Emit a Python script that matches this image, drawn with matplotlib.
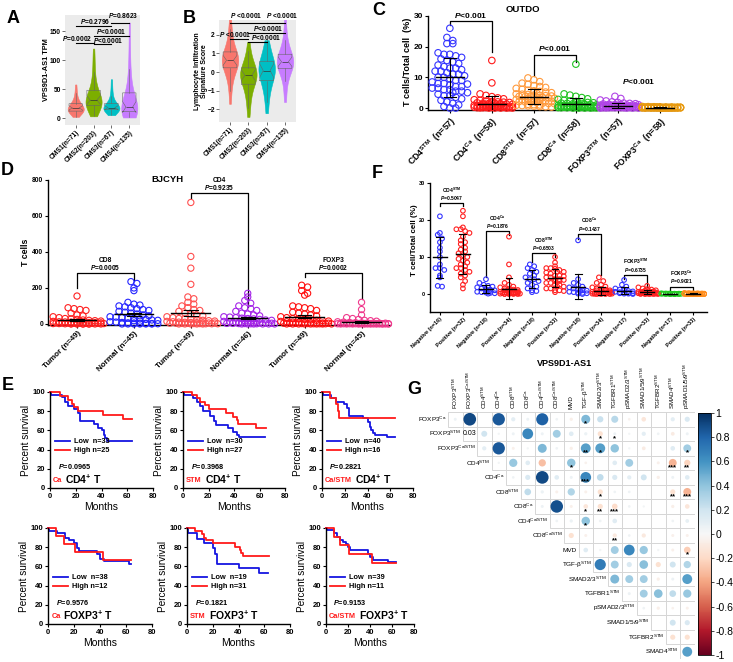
import numpy as np
import matplotlib
matplotlib.use('Agg')
import matplotlib.pyplot as plt
from matplotlib.patches import Rectangle
from matplotlib.cm import ScalarMappable
from matplotlib.colors import Normalize

plt.rcParams['font.family'] = ['Liberation Sans', 'DejaVu Sans']
plt.rcParams['font.weight'] = 'bold'
plt.rcParams['mathtext.fontset'] = 'custom'
plt.rcParams['mathtext.rm'] = 'Liberation Sans'
plt.rcParams['mathtext.it'] = 'Liberation Sans:italic:bold'
plt.rcParams['mathtext.bf'] = 'Liberation Sans:bold'
plt.rcParams['mathtext.default'] = 'regular'
plt.rcParams['axes.linewidth'] = 1.0

W, H = 733, 662

# ---------------- data ----------------
cms_labels = ['CMS1(n=71)', 'CMS2(n=203)', 'CMS3(n=67)', 'CMS4(n=135)']
cms_colors = ['#F8766D', '#7CAE00', '#00BFC4', '#C77CFF']
tpm_cms1 = [2, 4, 6, 7, 8, 9, 10, 11, 12, 12, 13, 14, 14, 15, 16, 16, 17, 18, 18, 19, 20, 21, 22, 23,
            24, 25, 27, 29, 31, 34, 38, 43, 50, 58]
tpm_cms2 = [3, 7, 10, 13, 15, 17, 19, 21, 22, 24, 25, 26, 27, 28, 29, 30, 31, 32, 34, 36, 38, 40, 42,
            45, 48, 52, 57, 63, 70, 80, 92, 105, 120]
tpm_cms3 = [5, 8, 10, 12, 13, 14, 15, 15, 16, 16, 17, 17, 18, 18, 19, 20, 21, 22, 24, 26, 29, 33, 38,
            45, 55, 67]
tpm_cms4 = [1, 3, 5, 7, 8, 9, 10, 11, 12, 13, 14, 15, 16, 17, 18, 20, 22, 24, 27, 30, 34, 39, 45, 52,
            60, 70, 85, 105, 130, 165]
lis_cms1 = [-1.7, -1.0, -0.6, -0.3, -0.1, 0.1, 0.2, 0.3, 0.4, 0.45, 0.5, 0.55, 0.6, 0.65, 0.7, 0.75,
            0.8, 0.9, 1.0, 1.1, 1.2, 1.4, 1.6, 1.9, 2.3, 2.8]
lis_cms2 = [-2.4, -1.9, -1.5, -1.2, -1.0, -0.8, -0.6, -0.5, -0.4, -0.3, -0.25, -0.2, -0.15, -0.1,
            -0.05, 0.0, 0.1, 0.2, 0.3, 0.4, 0.6, 0.8, 1.1, 1.6]
lis_cms3 = [-2.2, -1.6, -1.2, -0.9, -0.7, -0.5, -0.35, -0.2, -0.1, 0.0, 0.05, 0.1, 0.2, 0.3, 0.4, 0.5,
            0.6, 0.7, 0.9, 1.1, 1.4, 1.7]
lis_cms4 = [-1.6, -1.0, -0.5, -0.2, 0.0, 0.15, 0.25, 0.35, 0.4, 0.45, 0.5, 0.55, 0.6, 0.65, 0.7, 0.8,
            0.9, 1.0, 1.2, 1.4, 1.7, 2.1, 2.8]

outdo_labels = ['CD4$^{STM}$  (n=57)', 'CD4$^{Ca}$  (n=58)', 'CD8$^{STM}$  (n=57)',
                'CD8$^{Ca}$  (n=58)', 'FOXP3$^{STM}$  (n=57)', 'FOXP3$^{Ca}$  (n=58)']
outdo_colors = ['#3535FF', '#FF1A1A', '#FF9A3C', '#22C322', '#B044E6', '#E89A10']
outdo_cd4_stm = [26, 23, 22, 21, 21, 18, 17.5, 17.5, 17, 16.5, 16, 15.5, 15, 14.5, 14, 13.5, 13, 13,
                 12.5, 12, 12, 11.5, 11, 11, 10.5, 10, 10, 9.5, 9, 9, 8.5, 8, 8, 7.5, 7, 7, 6.5, 6.5,
                 6, 6, 5.5, 5.5, 5, 5, 4.5, 4, 4, 3.5, 3, 2.5, 2, 1.5, 1, 0.5, 0, 0, 7.8]
outdo_cd4_ca = [15.5, 8.2, 4.6, 4.1, 3.7, 3.3, 3.0, 2.7, 2.5, 2.3, 2.1, 2.0, 1.9, 1.8, 1.7, 1.6, 1.5,
                1.5, 1.4, 1.3, 1.2, 1.2, 1.1, 1.0, 1.0, 0.9, 0.9, 0.8, 0.8, 0.7, 0.7, 0.6, 0.6, 0.5,
                0.5, 0.5, 0.4, 0.4, 0.4, 0.3, 0.3, 0.3, 0.2, 0.2, 0.2, 0.1, 0.1, 0.1, 0.0, 0.0, 0.0,
                0.0, 0.0, 0.05, 0.15, 0.25, 0.35, 0.45]
outdo_cd8_stm = [9.8, 9.2, 8.6, 8.1, 7.7, 7.3, 7.0, 6.7, 6.4, 6.1, 5.8, 5.6, 5.4, 5.2, 5.0, 4.8, 4.6,
                 4.5, 4.4, 4.2, 4.1, 4.0, 3.9, 3.8, 3.7, 3.6, 3.5, 3.4, 3.3, 3.2, 3.1, 3.0, 2.9, 2.8,
                 2.7, 2.6, 2.5, 2.4, 2.3, 2.2, 2.1, 2.0, 1.9, 1.8, 1.6, 1.5, 1.4, 1.2, 1.1, 1.0, 0.9,
                 0.8, 0.7, 0.6, 0.5, 0.4, 0.3]
outdo_cd8_ca = [14.3, 4.6, 4.2, 3.8, 3.4, 3.0, 2.8, 2.5, 2.3, 2.1, 2.0, 1.8, 1.7, 1.6, 1.5, 1.4, 1.3,
                1.2, 1.1, 1.0, 1.0, 0.9, 0.9, 0.8, 0.8, 0.7, 0.7, 0.6, 0.6, 0.5, 0.5, 0.5, 0.4, 0.4,
                0.4, 0.3, 0.3, 0.3, 0.2, 0.2, 0.2, 0.1, 0.1, 0.1, 0.0, 0.0, 0.0, 0.0, 0.05, 0.15,
                0.25, 0.35, 0.45, 0.55, 0.65, 0.75, 0.85, 0.95]
outdo_foxp3_stm = [3.8, 3.1, 2.6, 2.3, 2.0, 1.8, 1.6, 1.5, 1.4, 1.3, 1.2, 1.1, 1.0, 1.0, 0.9, 0.9,
                   0.8, 0.8, 0.7, 0.7, 0.6, 0.6, 0.5, 0.5, 0.5, 0.4, 0.4, 0.4, 0.3, 0.3, 0.3, 0.2,
                   0.2, 0.2, 0.2, 0.1, 0.1, 0.1, 0.1, 0.0, 0.0, 0.0, 0.0, 0.05, 0.15, 0.25, 0.35,
                   0.45, 0.55, 0.65, 0.75, 0.85, 0.95, 1.05, 0.12, 0.22, 0.32]
outdo_foxp3_ca = [0.5, 0.45, 0.4, 0.4, 0.35, 0.35, 0.3, 0.3, 0.3, 0.25, 0.25, 0.25, 0.2, 0.2, 0.2,
                  0.2, 0.15, 0.15, 0.15, 0.15, 0.1, 0.1, 0.1, 0.1, 0.1, 0.05, 0.05, 0.05, 0.05,
                  0.05, 0.0, 0.0, 0.0, 0.0, 0.0, 0.0, 0.0, 0.0, 0.0, 0.0, 0.12, 0.18, 0.22, 0.28,
                  0.32, 0.08, 0.02, 0.07, 0.13, 0.17, 0.23, 0.27, 0.03, 0.09, 0.14, 0.19, 0.24, 0.04]

bjcyh_labels = ['Tumor (n=49)', 'Normal (n=45)', 'Tumor (n=49)', 'Normal (n=46)', 'Tumor (n=49)',
                'Normal (n=45)']
bjcyh_colors = ['#FF2020', '#2424FF', '#FF5050', '#A424E8', '#FF1010', '#F0388C']
bjcyh_tumor_cd8 = [155, 90, 85, 80, 75, 60, 50, 45, 40, 35, 30, 28, 25, 22, 20, 18, 16, 15, 14, 12,
                   11, 10, 9, 8, 8, 7, 6, 6, 5, 5, 4, 4, 3, 3, 3, 2, 2, 2, 1, 1, 1, 0, 0, 0, 0, 0,
                   0, 0, 0]
bjcyh_normal_cd8 = [235, 225, 200, 185, 120, 110, 105, 100, 95, 90, 85, 80, 75, 70, 65, 60, 55, 50,
                    45, 40, 38, 35, 32, 30, 28, 25, 22, 20, 18, 15, 12, 10, 8, 6, 5, 4, 3, 2, 1, 0,
                    0, 0, 0, 0, 0]
bjcyh_tumor_cd4 = [675, 375, 310, 220, 150, 140, 120, 110, 100, 90, 80, 75, 70, 60, 55, 50, 45, 40,
                   35, 30, 28, 25, 22, 20, 18, 16, 14, 12, 10, 9, 8, 7, 6, 5, 5, 4, 4, 3, 3, 2, 2,
                   1, 1, 1, 0, 0, 0, 0, 0]
bjcyh_normal_cd4 = [170, 150, 130, 115, 100, 90, 85, 75, 70, 60, 55, 50, 45, 40, 38, 35, 32, 30, 28,
                    25, 22, 20, 18, 16, 15, 14, 12, 10, 9, 8, 7, 6, 5, 4, 3, 3, 2, 2, 1, 1, 0, 0, 0,
                    0, 0, 0]
bjcyh_tumor_foxp3 = [215, 205, 185, 170, 160, 100, 95, 90, 85, 75, 65, 60, 55, 50, 45, 40, 35, 30,
                     28, 25, 22, 20, 18, 16, 14, 12, 10, 9, 8, 7, 6, 5, 4, 4, 3, 3, 2, 2, 1, 1, 1,
                     0, 0, 0, 0, 0, 0, 0, 0]
bjcyh_normal_foxp3 = [120, 80, 50, 35, 30, 25, 20, 18, 15, 12, 10, 8, 7, 6, 5, 5, 4, 4, 3, 3, 3, 2,
                      2, 2, 2, 1, 1, 1, 1, 1, 1, 0, 0, 0, 0, 0, 0, 0, 0, 0, 0, 0, 0, 0, 0]

vps_labels = ['Negative (n=16)', 'Positive (n=32)', 'Negative (n=18)', 'Positive (n=34)',
              'Negative (n=18)', 'Positive (n=33)', 'Negative (n=18)', 'Positive (n=34)',
              'Negative (n=17)', 'Positive (n=33)', 'Negative (n=17)', 'Positive (n=33)']
vps_colors = ['#3535FF', '#FF2020'] * 5 + ['#22CC22', '#FF8C1A']
vps_cd4_stm_neg = [21, 16.5, 16, 15, 14, 12.5, 11.5, 10, 8, 7, 7, 6.5, 5, 4.5, 2.2, 2]
vps_cd4_stm_pos = [22.5, 21, 18, 17.5, 17.5, 17, 16.5, 15.5, 14.5, 14, 13.5, 12.5, 12, 11.5, 11,
                   10.5, 10, 9.5, 9, 8.5, 8, 7.5, 7, 7, 6.5, 6, 5.5, 5, 4.5, 3.5, 2.5, 1.5]
vps_cd4_ca_neg = [4, 3, 2.5, 2.2, 2, 1.8, 1.5, 1.3, 1.2, 1, 1, 0.8, 0.6, 0.5, 0.4, 0.3, 0.2, 0.1]
vps_cd4_ca_pos = [15.5, 8, 4.5, 3, 2.5, 2, 1.8, 1.5, 1.3, 1.2, 1.1, 1, 0.9, 0.8, 0.7, 0.6, 0.5, 0.5,
                  0.4, 0.4, 0.3, 0.3, 0.2, 0.2, 0.1, 0.1, 0, 0, 0, 0, 0.05, 0.15, 0.25, 0.35]
vps_cd8_stm_neg = [8, 7.5, 7, 6.5, 6, 5.5, 5, 4.5, 4, 4, 3.5, 3, 2.5, 2, 1.5, 1, 0.8, 0.5]
vps_cd8_stm_pos = [10, 8.5, 7.5, 7, 7, 6.8, 6.5, 6, 6, 5.8, 5.5, 5, 5, 4.8, 4.5, 4.5, 4, 4, 3.8,
                   3.5, 3.5, 3, 3, 2.5, 2.5, 2, 2, 1.5, 1.5, 1, 1, 0.8, 0.5]
vps_cd8_ca_neg = [14.5, 4, 3, 2.5, 2, 1.8, 1.5, 1.2, 1, 0.9, 0.8, 0.6, 0.5, 0.4, 0.3, 0.2, 0.1, 0]
vps_cd8_ca_pos = [4.5, 3.5, 3, 2.5, 2, 1.8, 1.5, 1.3, 1.2, 1, 1, 0.9, 0.8, 0.7, 0.6, 0.5, 0.5, 0.4,
                  0.4, 0.3, 0.3, 0.2, 0.2, 0.1, 0.1, 0, 0, 0, 0, 0.05, 0.15, 0.25, 0.35, 0.45]
vps_foxp3_stm_neg = [3.8, 2.5, 2, 1.5, 1.2, 1, 0.8, 0.7, 0.6, 0.5, 0.4, 0.3, 0.2, 0.2, 0.1, 0.1, 0]
vps_foxp3_stm_pos = [2.2, 1.8, 1.5, 1.3, 1.2, 1, 0.9, 0.8, 0.7, 0.6, 0.6, 0.5, 0.5, 0.4, 0.4, 0.3,
                     0.3, 0.3, 0.2, 0.2, 0.2, 0.1, 0.1, 0.1, 0.1, 0, 0, 0, 0, 0.05, 0.15, 0.25, 0.35]
vps_foxp3_ca_neg = [0.2, 0.15, 0.15, 0.1, 0.1, 0.1, 0.1, 0.05, 0.05, 0.05, 0.05, 0, 0, 0, 0, 0, 0]
vps_foxp3_ca_pos = [0.3, 0.25, 0.2, 0.2, 0.15, 0.15, 0.15, 0.1, 0.1, 0.1, 0.1, 0.1, 0.05, 0.05, 0.05,
                    0.05, 0.05, 0.05, 0, 0, 0, 0, 0, 0, 0, 0, 0, 0, 0, 0, 0, 0, 0]

# Kaplan-Meier step curves (months, percent survival)
ca_cd4_low_t = [0, 0.5, 9, 12, 14, 19, 22, 23, 34, 37, 40, 42, 43, 44, 64]
ca_cd4_low_s = [100, 97, 95, 90, 85, 82, 78, 70, 67, 63, 60, 55, 52, 49, 49]
ca_cd4_high_t = [0, 8, 14, 17, 19, 22, 41, 57, 64]
ca_cd4_high_s = [100, 96, 92, 88, 84, 80, 76, 72, 72]
stm_cd4_low_t = [0, 0.5, 8, 11, 13, 16, 21, 24, 26, 35, 39, 42, 44, 64]
stm_cd4_low_s = [100, 97, 94, 90, 85, 80, 75, 70, 66, 62, 58, 55, 53, 53]
stm_cd4_high_t = [0, 7, 11, 13, 17, 20, 34, 39, 42, 43, 57, 65]
stm_cd4_high_s = [100, 97, 94, 90, 86, 82, 78, 74, 71, 67, 63, 63]
cs_cd4_low_t = [0, 0.5, 8, 12, 19, 22, 24, 36, 40, 42, 43, 45, 47, 57, 64]
cs_cd4_low_s = [100, 97, 94, 90, 88, 83, 75, 73, 69, 64, 60, 57, 55, 53, 53]
cs_cd4_high_t = [0, 7, 12, 14, 15, 64]
cs_cd4_high_s = [100, 94, 87, 80, 73, 73]
ca_fox_low_t = [0, 0.5, 7, 13, 16, 20, 22, 24, 38, 40, 43, 62, 64]
ca_fox_low_s = [100, 97, 95, 90, 87, 84, 79, 76, 73, 68, 66, 63, 63]
ca_fox_high_t = [0, 6.5, 12, 21, 42, 64]
ca_fox_high_s = [100, 92, 83, 75, 67, 67]
stm_fox_low_t = [0, 0.5, 8, 13, 20.5, 22, 23, 40, 56, 63]
stm_fox_low_s = [100, 95, 89, 84, 79, 73, 63, 58, 53, 53]
stm_fox_high_t = [0, 6, 11.5, 13, 15, 20.5, 37, 41, 42, 43.5, 64]
stm_fox_high_s = [100, 97, 94, 90, 87, 84, 80, 77, 74, 71, 71]
cs_fox_low_t = [0, 0.5, 7, 10, 13, 15, 18, 20, 22, 38, 40, 43, 56, 64]
cs_fox_low_s = [100, 98, 95, 91, 88, 85, 83, 80, 77, 73, 70, 67, 65, 65]
cs_fox_high_t = [0, 7, 13, 21, 42, 64]
cs_fox_high_s = [100, 91, 82, 73, 64, 64]

corr_rows = ['FOXP3$^{Ca}$', 'FOXP3$^{STM}$', 'FOXP3$^{Ca/STM}$', 'CD4$^{STM}$', 'CD4$^{Ca}$',
             'CD8$^{STM}$', 'CD8$^{Ca}$', 'CD4$^{Ca/STM}$', 'CD8$^{Ca/STM}$', 'MVD',
             'TGF-β$^{STM}$', 'SMAD2/3$^{STM}$', 'TGFBR1$^{STM}$', 'pSMAD2/3$^{STM}$',
             'SMAD1/5/9$^{STM}$', 'TGFBR2$^{STM}$', 'SMAD4$^{STM}$']
corr_cols = corr_rows[1:] + ['pSMAD1/5/9$^{STM}$']
corr_r = [
    [0.05, 0.9, 0, 0.85, 0.1, 0.05, 0.82, 0.04, -0.06, 0.45, 0.22, 0.28, -0.04, -0.12, 0, 0.1, 0.15],
    [0.03, 0.2, 0.03, 0.05, 0.65, 0.05, 0.35, 0.12, 0.06, -0.15, 0.05, 0.03, 0.1, 0.04, -0.08, 0.05],
    [0.1, 0.85, -0.05, 0.03, 0.45, 0.04, -0.06, 0.55, 0.55, 0.4, 0.03, -0.08, 0, 0.12, 0.35],
    [0.03, 0.38, 0.12, -0.3, 0, 0.4, -0.04, 0, 0.12, 0.35, 0, -0.05, -0.35, -0.22],
    [0.04, 0.15, 0.9, 0.12, 0.05, 0.65, 0.25, 0.15, 0.1, 0.2, -0.06, 0.05, 0.12],
    [0.25, 0.06, -0.05, 0.3, -0.05, -0.15, 0.04, 0.04, 0, 0, -0.15, -0.35],
    [0.05, 0.88, -0.05, -0.12, -0.15, -0.18, 0.04, 0.03, 0, -0.06, -0.12],
    [0.04, 0.06, 0.4, 0.04, 0.12, 0, 0, 0, 0.04, 0.08],
    [-0.15, -0.05, 0, -0.1, 0.04, -0.1, 0, -0.05, -0.05],
    [0.12, 0.03, 0.35, 0.65, 0.38, 0.03, -0.05, -0.25],
    [0.7, 0.35, 0.15, 0.42, -0.15, 0.2, 0.3],
    [0.45, 0.35, 0.35, -0.06, 0.05, 0.55],
    [0.05, 0.35, 0.42, 0.25, 0.38],
    [0.04, -0.06, -0.04, -0.05],
    [0, 0.2, 0.15],
    [-0.15, -0.15],
    [0.55],
]
corr_stars = [(0, 9, '*'), (1, 10, '*'), (1, 11, '*'), (2, 9, '**'), (2, 10, '*'), (2, 16, '*'),
              (3, 8, '*'), (3, 15, '***'), (3, 16, '**'), (4, 9, '***'), (5, 10, '*'),
              (5, 15, '**'), (5, 16, '***'), (6, 9, '*'), (6, 10, '**'), (6, 11, '***'),
              (7, 9, '*'), (8, 11, '**'), (9, 16, '*')]
corr_number_cells = [(1, 1)]

# ---------------- helpers ----------------
fig = plt.figure(figsize=(W / 100, H / 100), dpi=100)


def add_ax(x0, y0, x1, y1):
    return fig.add_axes([x0 / W, 1 - y1 / H, (x1 - x0) / W, (y1 - y0) / H])


def ftext(x, y, s, **kw):
    fig.text(x / W, 1 - y / H, s, **kw)


def swarm(vals, dy, dx, maxw):
    vals = np.asarray(vals, float)
    offs = np.zeros(len(vals))
    nslot = 2 * max(1, int(maxw / dx)) + 1
    bins = np.floor(vals / dy + 0.5).astype(int)
    for b in np.unique(bins):
        idx = np.where(bins == b)[0]
        n = len(idx)
        for k, i in enumerate(idx):
            layer = k // nslot
            m = min(nslot, n - layer * nslot)
            pos = k % nslot
            offs[i] = (pos - (m - 1) / 2) * dx + (layer % 2) * dx * 0.5
    return offs


def dot_panel(ax, groups, colors, dy, dx, maxw, s, err, mean_w, cap_w):
    for k, (vals, col) in enumerate(zip(groups, colors)):
        vals = np.asarray(vals, float)
        x = k + swarm(vals, dy, dx, maxw)
        ax.scatter(x, vals, s=s, facecolors='none', edgecolors=col, linewidths=0.8,
                   zorder=3, clip_on=False)
        m = vals.mean()
        e = vals.std(ddof=1)
        if err == 'sem':
            e = e / np.sqrt(len(vals))
        ax.plot([k - mean_w, k + mean_w], [m, m], color='k', lw=1.0, zorder=4)
        ax.plot([k, k], [m - e, m + e], color='k', lw=0.8, zorder=4)
        for yy in (m - e, m + e):
            ax.plot([k - cap_w, k + cap_w], [yy, yy], color='k', lw=0.8, zorder=4)


def prism(ax, fs):
    for sp in ['top', 'right']:
        ax.spines[sp].set_visible(False)
    ax.tick_params(labelsize=fs, width=0.8, length=2.5, pad=1)


def bracket(ax, x0, x1, y, y0, y1, texts, ys, fs):
    ax.plot([x0, x0, x1, x1], [y0, y, y, y1], color='k', lw=0.9, clip_on=False)
    for t, yy in zip(texts, ys):
        ax.text((x0 + x1) / 2, yy, t, ha='center', va='center', fontsize=fs, clip_on=False)


def violin_panel(ax, data, ylim, yticks, lines, labels):
    ax.set_facecolor('#EBEBEB')
    for sp in ax.spines.values():
        sp.set_visible(False)
    parts = ax.violinplot(data, positions=[1, 2, 3, 4], widths=0.9, showextrema=False)
    for body, col in zip(parts['bodies'], cms_colors):
        body.set_facecolor(col)
        body.set_edgecolor(col)
        body.set_alpha(1)
        body.set_linewidth(0.4)
    ax.boxplot(data, positions=[1, 2, 3, 4], widths=0.75, notch=True, showfliers=False,
               boxprops=dict(color='#666666', lw=0.4), whiskerprops=dict(color='#666666', lw=0.4),
               capprops=dict(lw=0), medianprops=dict(color='#333333', lw=0.5))
    ax.set_xlim(0.4, 4.6)
    ax.set_ylim(*ylim)
    ax.set_yticks(yticks)
    ax.set_xticks([1, 2, 3, 4])
    ax.set_xticklabels(cms_labels, rotation=45, ha='right', rotation_mode='anchor')
    ax.tick_params(labelsize=4.8, length=2, width=0.5, color='#333333', pad=1)
    for x0, x1, y in lines:
        ax.plot([x0, x1], [y, y], color='k', lw=0.8, clip_on=False)
    for x, y, t in labels:
        ax.text(x, y, t, ha='center', va='center', fontsize=4.8, clip_on=False)


def km(box, low_t, low_s, high_t, high_s, n_low, n_high, pval, tag, cell):
    ax = add_ax(*box)
    ax.step(low_t, low_s, where='post', color='#1515E0', lw=1.3, clip_on=False,
            label='Low  n=%d' % n_low)
    ax.step(high_t, high_s, where='post', color='#FF1A1A', lw=1.3, clip_on=False,
            label='High n=%d' % n_high)
    ax.set_xlim(0, 80)
    ax.set_ylim(0, 100)
    ax.set_xticks([0, 20, 40, 60, 80])
    ax.set_yticks([0, 20, 40, 60, 80, 100])
    prism(ax, 5.5)
    ax.set_xlabel('Months', fontsize=7.5, labelpad=1.5)
    ax.set_ylabel('Percent survival', fontsize=7.2, labelpad=1)
    ax.legend(loc='upper left', bbox_to_anchor=(0.05, 0.52), frameon=False, fontsize=5.3,
              handlelength=2.0, handletextpad=0.5, labelspacing=0.25, borderpad=0,
              borderaxespad=0)
    ax.text(6, 22, r'$\mathit{P}$=' + pval, fontsize=5.3, va='center')
    t = ax.text(2.5, 6, tag, color='#FF1A1A', fontsize=5.3, va='baseline')
    ax.annotate(cell + '$^{+}$ T', xy=(1, 0), xycoords=t, xytext=(2, 0.5),
                textcoords='offset points', fontsize=7.5, va='baseline')
    return ax


# ---------------- panel letters ----------------
for lab, x, y in [('A', 7, 10), ('B', 183, 10), ('C', 372, 2), ('D', 1, 162), ('F', 372, 165),
                  ('E', 2, 377), ('G', 407, 381)]:
    ftext(x, y, lab, fontsize=13, fontweight='bold', va='top')

# ---------------- A ----------------
axA = add_ax(65, 15, 140, 125)
violin_panel(axA, [tpm_cms1, tpm_cms2, tpm_cms3, tpm_cms4], (-12, 178), [0, 50, 100, 150],
             [(3, 4, 164), (1, 3, 159), (2, 4, 141), (1, 2, 129), (2, 3, 128)],
             [(3.67, 177, r'$\mathit{P}$=0.8623'), (2.08, 166, r'$\mathit{P}$=0.2796'),
              (2.97, 149, r'$\mathit{P}$<0.0001'), (1.07, 137, r'$\mathit{P}$=0.0002'),
              (2.8, 134, r'$\mathit{P}$<0.0001')])
ftext(47, 70, 'VPS9D1-AS1 TPM', fontsize=5.3, rotation=90, ha='center', va='center')

# ---------------- B ----------------
axB = add_ax(219, 20, 296, 122)
violin_panel(axB, [lis_cms1, lis_cms2, lis_cms3, lis_cms4], (-2.67, 2.78), [-2, -1, 0, 1, 2],
             [(1, 3, 2.64), (3, 4, 2.64), (2, 4, 2.07), (1, 2, 1.75), (2, 3, 1.62)],
             [(1.88, 3.0, r'$\mathit{P}$ <0.0001'), (3.84, 3.0, r'$\mathit{P}$ <0.0001'),
              (3.08, 2.33, r'$\mathit{P}$<0.0001'), (1.27, 1.98, r'$\mathit{P}$ <0.0001'),
              (2.97, 1.85, r'$\mathit{P}$<0.0001')])
ftext(201, 71, 'Lymphocyte Infiltration\nSignature Score', fontsize=5.0, rotation=90,
      ha='center', va='center', linespacing=1.1)

# ---------------- C ----------------
axC = add_ax(428, 16, 675, 110)
dot_panel(axC, [outdo_cd4_stm, outdo_cd4_ca, outdo_cd8_stm, outdo_cd8_ca, outdo_foxp3_stm,
                outdo_foxp3_ca], outdo_colors, 1.9, 0.14, 0.5, 22, 'sd', 0.33, 0.15)
axC.set_xlim(-0.52, 5.36)
axC.set_ylim(-0.65, 30)
axC.set_yticks([0, 10, 20, 30])
axC.set_xticks(range(6))
axC.set_xticklabels(outdo_labels, rotation=45, ha='right', rotation_mode='anchor')
prism(axC, 6)
axC.tick_params(axis='x', labelsize=6.3)
bracket(axC, 0, 1, 28.5, 27, 18.2, [r'$\mathit{P}$<0.001'], [30.3], 6)
bracket(axC, 2, 3, 17.3, 10.5, 15, [r'$\mathit{P}$<0.001'], [19.3], 6)
axC.text(4.5, 8.8, r'$\mathit{P}$<0.001', ha='center', va='center', fontsize=6)
ftext(523, 9, 'OUTDO', fontsize=6.8, ha='center', va='center')
ftext(408, 62, 'T cells/Total cell  (%)', fontsize=6.5, rotation=90, ha='center', va='center')

# ---------------- D ----------------
axD = add_ax(48, 180, 390, 325)
dot_panel(axD, [bjcyh_tumor_cd8, bjcyh_normal_cd8, bjcyh_tumor_cd4, bjcyh_normal_cd4,
                bjcyh_tumor_foxp3, bjcyh_normal_foxp3], bjcyh_colors, 30, 0.105, 0.45, 20,
          'sem', 0.34, 0.12)
axD.set_xlim(-0.51, 5.5)
axD.set_ylim(-6, 800)
axD.set_yticks([0, 200, 400, 600, 800])
axD.set_xticks(range(6))
axD.set_xticklabels(bjcyh_labels, rotation=45, ha='right', rotation_mode='anchor')
prism(axD, 4.8)
axD.tick_params(axis='x', labelsize=5.8)
bracket(axD, 0, 1, 283, 198, 245, ['CD8', r'$\mathit{P}$=0.0005'], [352, 315], 4.8)
bracket(axD, 2, 3, 726, 698, 96, ['CD4', r'$\mathit{P}$=0.9235'], [800, 758], 4.8)
bracket(axD, 4, 5, 283, 259, 137, ['FOXP3', r'$\mathit{P}$=0.0002'], [352, 315], 4.8)
ftext(167, 180, 'BJCYH', fontsize=6.8, ha='center', va='center')
ftext(25, 252, 'T cells', fontsize=6.3, rotation=90, ha='center', va='center')

# ---------------- F ----------------
axF = add_ax(430, 183, 707, 312)
dot_panel(axF, [vps_cd4_stm_neg, vps_cd4_stm_pos, vps_cd4_ca_neg, vps_cd4_ca_pos, vps_cd8_stm_neg,
                vps_cd8_stm_pos, vps_cd8_ca_neg, vps_cd8_ca_pos, vps_foxp3_stm_neg,
                vps_foxp3_stm_pos, vps_foxp3_ca_neg, vps_foxp3_ca_pos], vps_colors,
          1.3, 0.19, 0.4, 11, 'sd', 0.3, 0.15)
axF.set_xlim(-0.43, 11.6)
axF.set_ylim(-4.86, 30)
axF.set_yticks([0, 10, 20, 30])
axF.set_xticks(range(12))
axF.set_xticklabels(vps_labels, rotation=45, ha='right', rotation_mode='anchor')
prism(axF, 4)
axF.tick_params(axis='x', labelsize=4)
fsf = 3.6
bracket(axF, 0, 1, 24.5, 23.9, 23.9, ['CD4$^{STM}$', r'$\mathit{P}$=0.5047'], [28.1, 25.9], fsf)
bracket(axF, 2, 3, 17.0, 4.5, 16.0, ['CD4$^{Ca}$', r'$\mathit{P}$=0.1876'], [20.5, 18.4], fsf)
bracket(axF, 4, 5, 11.0, 8.7, 9.9, ['CD8$^{STM}$', r'$\mathit{P}$=0.6503'], [14.6, 12.5], fsf)
bracket(axF, 6, 7, 16.2, 15.0, 5.1, ['CD8$^{Ca}$', r'$\mathit{P}$=0.1437'], [19.8, 17.6], fsf)
bracket(axF, 8, 9, 5.1, 4.0, 2.0, ['FOXP3$^{STM}$', r'$\mathit{P}$=0.6735'], [8.7, 6.6], fsf)
bracket(axF, 10, 11, 2.0, 1.1, 1.1, ['FOXP3$^{Ca}$', r'$\mathit{P}$=0.9021'], [5.6, 3.5], fsf)
ftext(414, 240, 'T cell/Total cell (%)', fontsize=5.8, rotation=90, ha='center', va='center')
ftext(565, 363, 'VPS9D1-AS1', fontsize=6.5, ha='center', va='center')

# ---------------- E ----------------
km((50, 392, 153, 488), ca_cd4_low_t, ca_cd4_low_s, ca_cd4_high_t, ca_cd4_high_s, 33, 25,
   '0.0965', 'Ca', 'CD4')
km((183, 392, 285, 488), stm_cd4_low_t, stm_cd4_low_s, stm_cd4_high_t, stm_cd4_high_s, 30, 27,
   '0.3968', 'STM', 'CD4')
km((322, 392, 413, 488), cs_cd4_low_t, cs_cd4_low_s, cs_cd4_high_t, cs_cd4_high_s, 40, 16,
   '0.2821', 'Ca/STM', 'CD4')
km((48, 528, 152, 624), ca_fox_low_t, ca_fox_low_s, ca_fox_high_t, ca_fox_high_s, 38, 12,
   '0.9576', 'Ca', 'FOXP3')
km((187, 528, 290, 624), stm_fox_low_t, stm_fox_low_s, stm_fox_high_t, stm_fox_high_s, 19, 31,
   '0.1821', 'STM', 'FOXP3')
km((326, 528, 414, 624), cs_fox_low_t, cs_fox_low_s, cs_fox_high_t, cs_fox_high_s, 39, 11,
   '0.9153', 'Ca/STM', 'FOXP3')

# ---------------- G ----------------
axG = add_ax(448, 412, 694.5, 659)
axG.set_xlim(-0.5, 16.5)
axG.set_ylim(16.5, -0.5)
axG.axis('off')
cmap = plt.get_cmap('RdBu')
norm = Normalize(-1, 1)
cell_pt = (246.5 / 17) * 0.72
xs, ys, ss, cs = [], [], [], []
for i, row in enumerate(corr_r):
    for k, r in enumerate(row):
        j = i + k
        axG.add_patch(Rectangle((j - 0.5, i - 0.5), 1, 1, fill=False, ec='#D6D6D6', lw=0.7))
        if (i, j) in corr_number_cells:
            axG.text(j, i, '%.2f' % r, ha='center', va='center', fontsize=5,
                     fontweight='normal')
            continue
        xs.append(j)
        ys.append(i)
        ss.append((0.92 * np.sqrt(abs(r)) * cell_pt) ** 2)
        cs.append(cmap(norm(r)))
axG.scatter(xs, ys, s=ss, c=cs, linewidths=0, zorder=3)
for i, j, st in corr_stars:
    axG.text(j, i + 0.33, st, ha='center', va='center', fontsize=5.5, zorder=4)
for i, lab in enumerate(corr_rows):
    axG.text(i - 0.6, i, lab, ha='right', va='center', fontsize=4.6, fontweight='normal')
for j, lab in enumerate(corr_cols):
    axG.text(j, -0.7, lab, ha='center', va='bottom', rotation=90, fontsize=4.5,
             fontweight='normal')

cax = add_ax(698, 413, 711, 655)
cb = fig.colorbar(ScalarMappable(norm=norm, cmap=cmap), cax=cax)
cticks = [-1, -0.8, -0.6, -0.4, -0.2, 0, 0.2, 0.4, 0.6, 0.8, 1]
cb.set_ticks(cticks)
cb.set_ticklabels(['-1', '-0.8', '-0.6', '-0.4', '-0.2', '0', '0.2', '0.4', '0.6', '0.8', '1'])
cax.tick_params(labelsize=7.5, length=2, width=0.5, pad=1)
for lab in cax.get_yticklabels():
    lab.set_fontweight('normal')
cb.outline.set_linewidth(0.6)

fig.savefig('out.png', dpi=100)
